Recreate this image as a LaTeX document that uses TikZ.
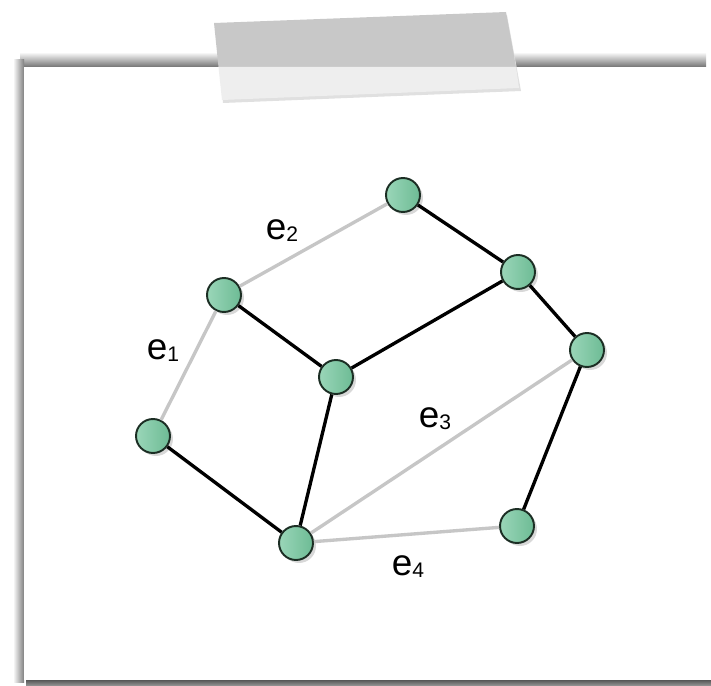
\documentclass[tikz,border=0pt]{standalone}
\usepackage{fontspec}
\setmainfont{Liberation Sans}
\usepackage{xcolor}
\usepackage{tikz}
\usetikzlibrary{shadows}
\tikzset{
  vertex/.style={circle, draw=vertexline, line width=1.1pt, minimum size=6.8mm, inner sep=0pt,
                 left color=vertexlight, right color=vertexfill,
                 drop shadow={opacity=0.3, shadow xshift=0.6mm, shadow yshift=-0.6mm}},
  tree/.style={line width=1.9pt, draw=black},
  cut/.style={line width=1.9pt, draw=edgegray},
  elabel/.style={font=\fontsize{21}{21}\selectfont, inner sep=0pt},
}
\definecolor{vertexfill}{HTML}{6DBB95}
\definecolor{vertexlight}{HTML}{9AD6B8}
\definecolor{vertexline}{HTML}{1C2E24}
\definecolor{edgegray}{HTML}{C6C6C6}
\definecolor{tapedark}{HTML}{C8C8C8}
\definecolor{tapelight}{HTML}{EEEEEE}
\newcommand{\esub}[1]{{\fontsize{12}{12}\selectfont\raisebox{-1.2pt}{#1}}}

\begin{document}
\begin{tikzpicture}[x=0.02cm, y=-0.02cm]
  \useasboundingbox (0,0) rectangle (711,686);
  % paper and its shadow
  \shade[top color=white, bottom color=black!55] (20,52) rectangle (706,67);
  \shade[left color=white, right color=black!50] (13,60) rectangle (24,682);
  \shade[top color=black!70, bottom color=black!40] (26,679) rectangle (711,686);
  \fill[white] (24,67) rectangle (711,680);
  % tape
  \fill[black!12] (216,25) -- (507,15) -- (521,91) -- (223,103) -- cycle;
  \fill[tapedark] (214,23) -- (506,12) -- (516,67) -- (218.5,67) -- cycle;
  \fill[tapelight] (218.5,67) -- (516,67) -- (519,88) -- (222,100) -- cycle;
  % vertices
  \node[vertex] (ul) at (224,295) {};
  \node[vertex] (apex) at (403,195) {};
  \node[vertex] (ur) at (518,272) {};
  \node[vertex] (er) at (587,350) {};
  \node[vertex] (mid) at (336,377) {};
  \node[vertex] (wl) at (153,436) {};
  \node[vertex] (bot) at (296,543) {};
  \node[vertex] (br) at (517,526) {};
  % edges
  \draw[cut] (ul) -- (apex);
  \draw[cut] (ul) -- (wl);
  \draw[cut] (bot) -- (er);
  \draw[cut] (bot) -- (br);
  \draw[tree] (apex) -- (ur);
  \draw[tree] (ul) -- (mid);
  \draw[tree] (mid) -- (ur);
  \draw[tree] (ur) -- (er);
  \draw[tree] (wl) -- (bot);
  \draw[tree] (mid) -- (bot);
  \draw[tree] (br) -- (er);
  % labels
  \node[elabel] (e1) at (163,351) {e\esub{1}};
  \node[elabel] (e2) at (282,231) {e\esub{2}};
  \node[elabel] (e3) at (435,419) {e\esub{3}};
  \node[elabel] (e4) at (408,567) {e\esub{4}};
\end{tikzpicture}
\end{document}
